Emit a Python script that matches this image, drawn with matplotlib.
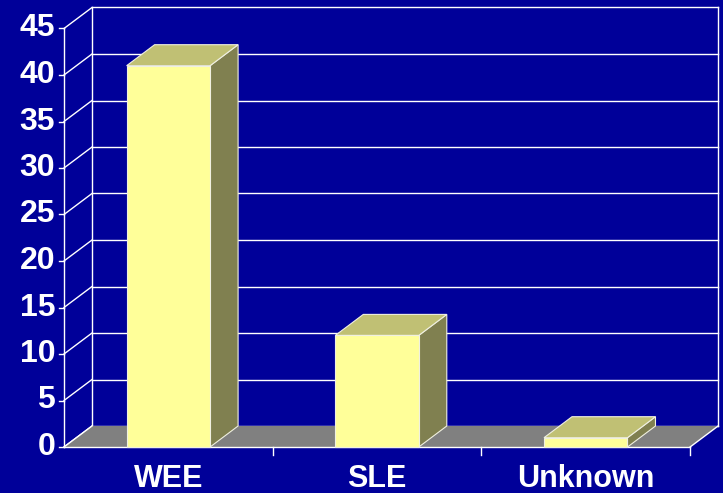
import numpy as np
import matplotlib
matplotlib.use("Agg")
import matplotlib.pyplot as plt
from matplotlib.patches import Polygon

# data
categories = ["WEE", "SLE", "Unknown"]
counts = [41, 12, 1]
yticks = [0, 5, 10, 15, 20, 25, 30, 35, 40, 45]

bg = "#000099"
front_c = "#FFFF99"
top_c = "#C0C074"
side_c = "#808050"
floor_c = "#808080"

fig = plt.figure(figsize=(7.23, 4.93), dpi=100, facecolor=bg)
ax = fig.add_axes([0, 0, 1, 1])
ax.set_facecolor(bg)
ax.axis("off")

# pixel scale: 208.7 px per category, 9.30 px per unit, origin at (64, 447)
pxc, pxv = 208.7, 9.30
ax.set_xlim(-64 / pxc, (723 - 64) / pxc)
ax.set_ylim(-(493 - 447) / pxv, 447 / pxv)

dx = 28 / pxc   # depth offset in category units
dy = 21 / pxv   # depth offset in value units
n = len(categories)
ymax = yticks[-1]
lw = 1.0

# back wall gridlines + left wall diagonals
for t in yticks:
    ax.plot([dx, n + dx], [t + dy, t + dy], color="white", lw=lw, zorder=1)
    ax.plot([0, dx], [t, t + dy], color="white", lw=lw, zorder=1)
    ax.plot([-0.025, 0], [t, t], color="white", lw=lw, zorder=1)
    ax.text(-0.042, t, str(t), color="white", fontsize=23, fontweight="bold",
            family="Liberation Sans", ha="right", va="center")
ax.plot([0, 0], [0, ymax], color="white", lw=lw, zorder=1)
ax.plot([dx, dx], [dy, ymax + dy], color="white", lw=lw, zorder=1)
ax.plot([n + dx, n + dx], [dy, ymax + dy], color="white", lw=lw, zorder=1)

# floor
ax.add_patch(Polygon([[0, 0], [n, 0], [n + dx, dy], [dx, dy]],
                     closed=True, fc=floor_c, ec="none", zorder=2))
ax.plot([0, n], [0, 0], color="white", lw=lw, zorder=2)
ax.plot([n, n + dx], [0, dy], color="white", lw=lw, zorder=2)
ax.plot([0, dx], [0, dy], color="white", lw=lw, zorder=2)
for i in range(1, n + 1):
    ax.plot([i, i], [0, -0.9], color="white", lw=lw, zorder=2)

# bars
w = 0.4
for i, (cat, v) in enumerate(zip(categories, counts)):
    x0 = i + 0.5 - w / 2
    x1 = i + 0.5 + w / 2
    ec = "#F0F0E0"
    ax.add_patch(Polygon([[x1, 0], [x1 + dx, dy], [x1 + dx, v + dy], [x1, v]],
                         closed=True, fc=side_c, ec=ec, lw=0.8, zorder=3))
    ax.add_patch(Polygon([[x0, v], [x1, v], [x1 + dx, v + dy], [x0 + dx, v + dy]],
                         closed=True, fc=top_c, ec=ec, lw=0.8, zorder=3))
    ax.add_patch(Polygon([[x0, 0], [x1, 0], [x1, v], [x0, v]],
                         closed=True, fc=front_c, ec=ec, lw=0.8, zorder=4))
    ax.text(i + 0.5, -3.45, cat, color="white", fontsize=22, fontweight="bold",
            family="Liberation Sans", ha="center", va="center")

fig.savefig("out.png", dpi=100, facecolor=bg)
